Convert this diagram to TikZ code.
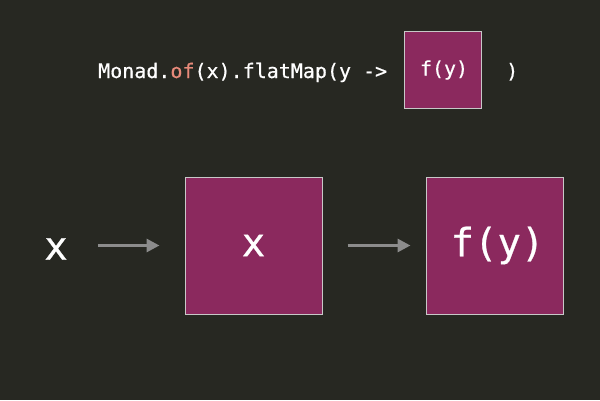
\documentclass[tikz,border=0pt]{standalone}
\usepackage{fontspec}
\setmonofont{DejaVu Sans Mono}[FakeBold=0.6]
\usetikzlibrary{arrows.meta}
\definecolor{bg}{RGB}{39,40,34}
\definecolor{boxfill}{RGB}{139,41,94}
\definecolor{boxline}{RGB}{200,200,200}
\definecolor{kw}{RGB}{232,138,122}
\definecolor{arrowgray}{RGB}{140,140,140}
\tikzset{
  codetext/.style={text=white, font=\ttfamily\fontsize{20}{20}\selectfont, inner sep=0pt},
  bigtext/.style={text=white, font=\ttfamily\fontsize{39}{39}\selectfont, inner sep=0pt},
  smallbox/.style={draw=boxline, line width=1pt, fill=boxfill, minimum width=77pt, minimum height=76pt, inner sep=0pt, text=white, font=\ttfamily\fontsize{20}{20}\selectfont},
  bigbox/.style={draw=boxline, line width=1pt, fill=boxfill, minimum width=137pt, minimum height=137pt, inner sep=0pt, text=white, font=\ttfamily\fontsize{39}{39}\selectfont},
  arr/.style={draw=arrowgray, line width=3pt, -{Triangle[length=13pt,width=13pt]}}
}
\begin{document}
\begin{tikzpicture}[x=1pt,y=1pt]
\fill[bg] (0,0) rectangle (600,400);
\useasboundingbox (0,0) rectangle (600,400);
\node[codetext, anchor=base west] (code) at (98,322) {Monad.\textcolor{kw}{of}(x).flatMap(y ->};
\node[smallbox] (fsmall) at (442.5,330) {\hspace{3pt}\raisebox{-5pt}{f(y)}};
\node[codetext, anchor=base west] (close) at (506,322) {)};
\node[bigtext] (xin) at (56,151) {x};
\node[bigbox] (box1) at (253.5,154.5) {\raisebox{-2pt}{x}};
\node[bigbox] (box2) at (494.5,154.5) {\hspace{6pt}f(y)};
\draw[arr, shorten <=30pt, shorten >=25pt] (xin.east |- box1.west) -- (box1.west);
\draw[arr, shorten <=25pt, shorten >=15pt] (box1.east) -- (box2.west);
\end{tikzpicture}
\end{document}
